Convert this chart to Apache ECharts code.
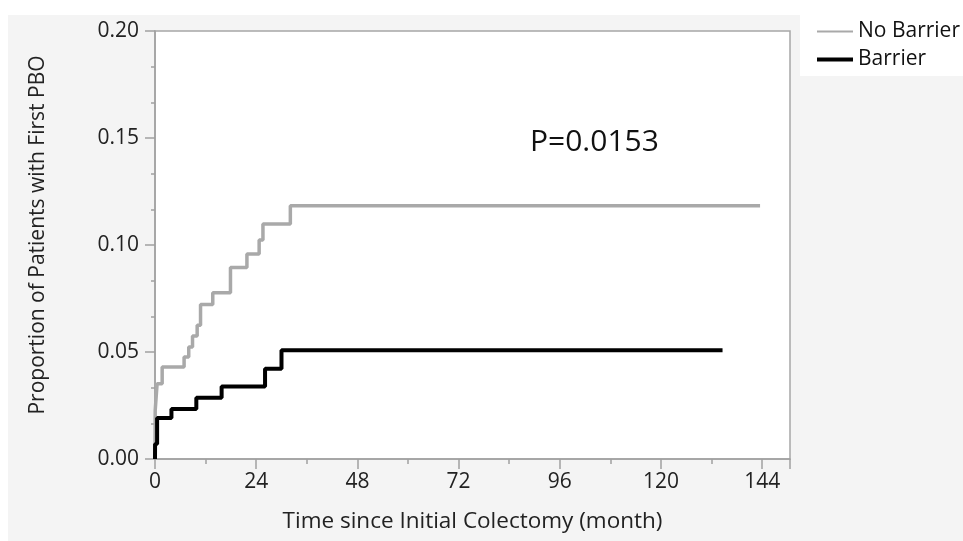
<!DOCTYPE html>
<html>
<head>
<meta charset="utf-8">
<script src="https://cdn.jsdelivr.net/npm/echarts@6/dist/echarts.min.js"></script>
<style>
  html, body { margin: 0; padding: 0; background: #fff; }
  #main { width: 963px; height: 541px; }
</style>
</head>
<body>
<div id="main"></div>
<script>
// Kaplan-Meier style cumulative proportion
var noBarrierTime = [0, 0.05, 0.5, 1.7, 6.9, 8.0, 8.9, 10.0, 10.8, 13.7, 17.9, 21.8, 24.7, 25.6, 32.1, 143.5];
var noBarrierProp = [0, 0.0227, 0.0352, 0.0430, 0.0477, 0.0523, 0.0575, 0.0625, 0.0722, 0.0777, 0.0895, 0.0958, 0.1023, 0.1098, 0.1183, 0.1183];

var barrierTime = [0, 0.02, 0.5, 3.9, 9.8, 15.8, 26.1, 30.0, 134.6];
var barrierProp = [0, 0.0070, 0.0192, 0.0234, 0.0286, 0.0339, 0.0422, 0.0508, 0.0508];

var xTicks = [0, 24, 48, 72, 96, 120, 144];
var yTicks = [0, 0.05, 0.10, 0.15, 0.20];

var seriesNames = ['No Barrier', 'Barrier'];
var pValueText = 'P=0.0153';

function pairs(xs, ys) {
	return xs.map(function(x, i) { return [x, ys[i]]; });
}

var font = 'Open Sans';
var chart = echarts.init(document.getElementById('main'));

var option = {
	animation : false,
	backgroundColor : '#ffffff',
	graphic : [ {
		type : 'rect',
		z : -10,
		shape : { x : 8, y : 15, width : 960, height : 530 },
		style : { fill : '#f4f4f4' }
	}, {
		type : 'rect',
		z : -9,
		shape : { x : 800, y : 8, width : 170, height : 68 },
		style : { fill : '#ffffff' }
	}, {
		type : 'text',
		left : 530,
		top : 127,
		style : {
			text : pValueText,
			font : '30px "Open Sans"',
			fill : '#111'
		}
	} ],
	grid : {
		left : 155,
		right : 173,
		top : 31,
		bottom : 82,
		show : true,
		backgroundColor : '#ffffff',
		borderColor : '#a6a6a6',
		borderWidth : 1.5
	},
	legend : [ {
		data : [ seriesNames[0] ],
		left : 817,
		top : 21,
		padding : 0,
		icon : 'rect',
		itemWidth : 36,
		itemHeight : 2,
		itemGap : 0,
		textStyle : { fontFamily : font, fontSize : 21, color : '#111' }
	}, {
		data : [ seriesNames[1] ],
		left : 817,
		top : 49,
		padding : 0,
		icon : 'rect',
		itemWidth : 36,
		itemHeight : 4,
		itemGap : 0,
		textStyle : { fontFamily : font, fontSize : 21, color : '#111' }
	} ],
	xAxis : {
		type : 'value',
		min : 0,
		max : 150.6,
		interval : 24,
		name : 'Time since Initial Colectomy (month)',
		nameLocation : 'middle',
		nameGap : 51,
		nameTextStyle : { fontFamily : font, fontSize : 22.5, color : '#222' },
		axisLine : { onZero : false, lineStyle : { color : '#a0a0a0', width : 1.5 } },
		axisTick : { length : 10, lineStyle : { color : '#a0a0a0', width : 1.5 } },
		minorTick : { show : true, splitNumber : 2, length : 5, lineStyle : { color : '#a0a0a0', width : 1.5 } },
		splitLine : { show : false },
		axisLabel : {
			margin : 13,
			fontFamily : font,
			fontSize : 21,
			color : '#222',
			showMaxLabel : false,
			formatter : function(v) {
				return xTicks.indexOf(v) >= 0 ? String(v) : '';
			}
		}
	},
	yAxis : {
		type : 'value',
		min : 0,
		max : 0.2,
		interval : 0.05,
		name : 'Proportion of Patients with First PBO',
		nameLocation : 'middle',
		nameGap : 106,
		nameTextStyle : { fontFamily : font, fontSize : 21, color : '#222', padding : [0, 0, 0, 20] },
		axisLine : { show : true, lineStyle : { color : '#a0a0a0', width : 1.5 } },
		axisTick : { show : true, length : 10, lineStyle : { color : '#a0a0a0', width : 1.5 } },
		minorTick : { show : true, splitNumber : 3, length : 4, lineStyle : { color : '#a0a0a0', width : 1.5 } },
		splitLine : { show : false },
		axisLabel : {
			margin : 16,
			fontFamily : font,
			fontSize : 21,
			color : '#222',
			formatter : function(v) {
				return v.toFixed(2);
			}
		}
	},
	series : [ {
		name : seriesNames[0],
		type : 'line',
		step : 'end',
		showSymbol : false,
		silent : true,
		color : '#a9a9a9',
		lineStyle : { width : 3.5, color : '#a9a9a9' },
		data : pairs(noBarrierTime, noBarrierProp)
	}, {
		name : seriesNames[1],
		type : 'line',
		step : 'end',
		showSymbol : false,
		silent : true,
		color : '#000000',
		lineStyle : { width : 4, color : '#000000' },
		data : pairs(barrierTime, barrierProp)
	} ]
};

chart.setOption(option);
</script>
</body>
</html>
